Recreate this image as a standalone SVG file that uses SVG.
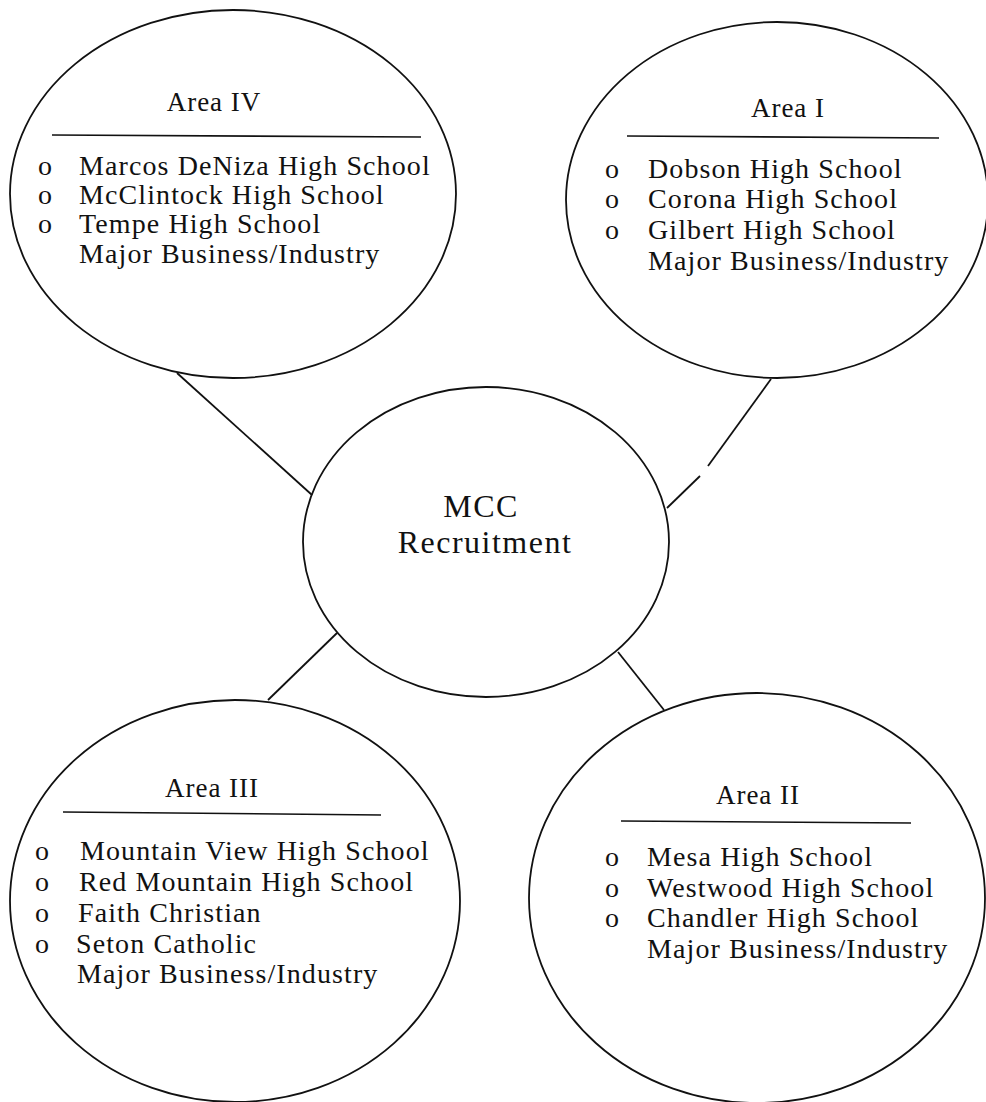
<svg xmlns="http://www.w3.org/2000/svg" width="986" height="1102" viewBox="0 0 986 1102">
<style>
.shape{fill:none;stroke:#111;stroke-width:1.8}
.conn{stroke:#111;stroke-width:1.8;fill:none}
.sep{stroke:#111;stroke-width:1.6}
text{font-family:"Liberation Serif","Times New Roman",serif;fill:#111}
.t{font-size:28px;letter-spacing:1.1px}
.h{font-size:27px;letter-spacing:1px;text-anchor:middle}
.c{font-size:32px;letter-spacing:1.5px;text-anchor:middle}
</style>
<rect width="986" height="1102" fill="#fff"/>
<g id="connectors">
<line class="conn" x1="177" y1="373" x2="312" y2="495"/>
<line class="conn" x1="667" y1="508" x2="700" y2="476"/>
<line class="conn" x1="708" y1="466" x2="771" y2="379"/>
<line class="conn" x1="268" y1="700" x2="337" y2="633"/>
<line class="conn" x1="618" y1="652" x2="664" y2="710"/>
</g>
<g id="center">
<ellipse class="shape" cx="486" cy="542" rx="183" ry="155"/>
<text class="c" x="481" y="517">MCC</text>
<text class="c" x="485" y="553">Recruitment</text>
</g>
<g id="area4">
<ellipse class="shape" cx="233" cy="194" rx="223" ry="184"/>
<text class="h" x="214" y="111">Area IV</text>
<line class="sep" x1="52" y1="135" x2="421" y2="137"/>
<text class="t" x="38" y="175">o</text><text class="t" x="79" y="175">Marcos DeNiza High School</text>
<text class="t" x="38" y="204">o</text><text class="t" x="79" y="204">McClintock High School</text>
<text class="t" x="38" y="233">o</text><text class="t" x="79" y="233">Tempe High School</text>
<text class="t" x="79" y="263">Major Business/Industry</text>
</g>
<g id="area1">
<ellipse class="shape" cx="777" cy="200" rx="211" ry="178"/>
<text class="h" x="788" y="117">Area I</text>
<line class="sep" x1="627" y1="136" x2="939" y2="138"/>
<text class="t" x="605" y="178">o</text><text class="t" x="648" y="178">Dobson High School</text>
<text class="t" x="605" y="208">o</text><text class="t" x="648" y="208">Corona High School</text>
<text class="t" x="605" y="239">o</text><text class="t" x="648" y="239">Gilbert High School</text>
<text class="t" x="648" y="270">Major Business/Industry</text>
</g>
<g id="area3">
<ellipse class="shape" cx="235" cy="901" rx="225" ry="201"/>
<text class="h" x="212" y="797">Area III</text>
<line class="sep" x1="63" y1="812" x2="381" y2="815"/>
<text class="t" x="35" y="860">o</text><text class="t" x="80" y="860">Mountain View High School</text>
<text class="t" x="35" y="891">o</text><text class="t" x="79" y="891">Red Mountain High School</text>
<text class="t" x="35" y="922">o</text><text class="t" x="78" y="922">Faith Christian</text>
<text class="t" x="35" y="953">o</text><text class="t" x="76" y="953">Seton Catholic</text>
<text class="t" x="77" y="983">Major Business/Industry</text>
</g>
<g id="area2">
<ellipse class="shape" cx="757" cy="898" rx="228" ry="205"/>
<text class="h" x="758" y="804">Area II</text>
<line class="sep" x1="621" y1="821" x2="911" y2="823"/>
<text class="t" x="605" y="866">o</text><text class="t" x="647" y="866">Mesa High School</text>
<text class="t" x="605" y="897">o</text><text class="t" x="647" y="897">Westwood High School</text>
<text class="t" x="605" y="927">o</text><text class="t" x="647" y="927">Chandler High School</text>
<text class="t" x="647" y="958">Major Business/Industry</text>
</g>
</svg>
